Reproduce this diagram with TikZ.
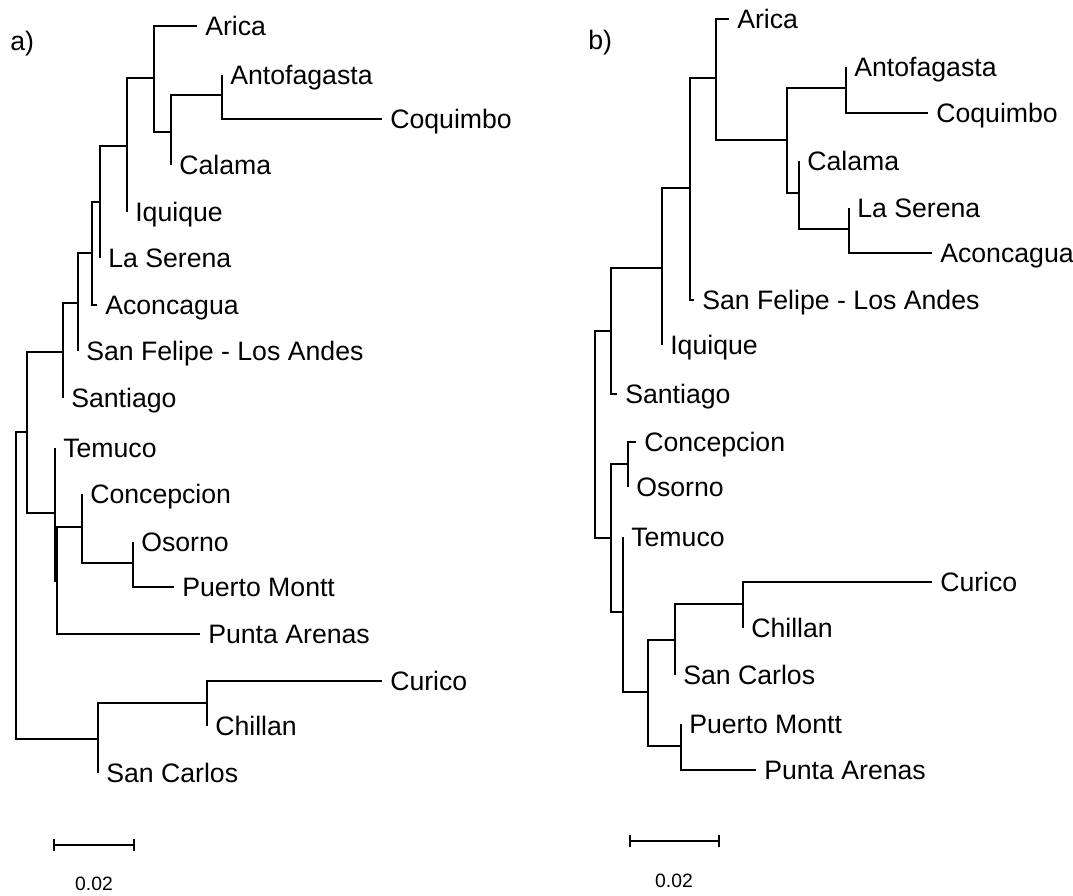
\documentclass[tikz,border=0pt]{standalone}
\usepackage{fontspec}
\setmainfont{Liberation Sans}
\usetikzlibrary{arrows.meta}
\tikzset{
  leaf/.style={anchor=west, inner xsep=6pt, inner ysep=0pt, text height=14.4pt, text depth=0pt, font=\fontsize{20}{24}\selectfont},
  branch/.style={line width=1.4pt},
  scalelab/.style={inner sep=0pt, font=\fontsize{14.5}{17}\selectfont},
}
\begin{document}
\begin{tikzpicture}[x=0.75pt, y=-0.75pt]
\useasboundingbox (0,0) rectangle (1073,895);
			%panel labels
			\node[leaf] (labA) at (2,41) {a)};
			\node[leaf] (labB) at (580,40) {b)};
			
			%tree a: leaves
			\foreach \n/\x/\y/\t in {aArica/197/26/Arica, aAnto/222/75/Antofagasta, aCoq/382/119/Coquimbo,
				aCal/171/165/Calama, aIqu/127/212/Iquique, aLaS/100/258/La Serena, aAco/97/305/Aconcagua,
				aSFe/78/351/San Felipe - Los Andes, aSant/63/398/Santiago, aTem/55/448/Temuco,
				aConc/82/494/Concepcion, aOso/133/542/Osorno, aPMo/174/587/Puerto Montt,
				aPAr/200/634/Punta Arenas, aCur/382/681/Curico, aChi/207/726/Chillan, aSCa/98/773/San Carlos}{
				\node[leaf] (\n) at (\x,\y) {\t};
			}
			%tree a: inner nodes
			\foreach \n/\x/\y in {aiAC/222/95, aiCal/171/132, aiAr/154/78, aiIq/127/146, aiLS/100/202,
				aiAco/92/253, aiSF/78/303, aiSt/63/352, aiN/27/432, aiTe/55/513, aiPA/57/581, aiCon/82/527,
				aiOs/133/563, aiCu/207/703, aiSC/98/739, aiRoot/16/585}{
				\coordinate (\n) at (\x,\y);
			}
			%tree a: branches
			\foreach \p/\c in {aiAC/aAnto, aiAC/aCoq, aiCal/aiAC, aiCal/aCal, aiAr/aArica, aiAr/aiCal,
				aiIq/aiAr, aiIq/aIqu, aiLS/aiIq, aiLS/aLaS, aiAco/aiLS, aiAco/aAco, aiSF/aiAco, aiSF/aSFe,
				aiSt/aiSF, aiSt/aSant, aiN/aiSt, aiN/aiTe, aiTe/aTem, aiTe/aiPA, aiPA/aiCon, aiPA/aPAr,
				aiCon/aConc, aiCon/aiOs, aiOs/aOso, aiOs/aPMo, aiCu/aCur, aiCu/aChi, aiSC/aiCu, aiSC/aSCa,
				aiRoot/aiN, aiRoot/aiSC}{
				\draw[branch] (\p) |- (\c.west);
			}
			
			%tree b: leaves
			\foreach \n/\x/\y/\t in {bArica/729/19/Arica, bAnto/846/67/Antofagasta, bCoq/928/113/Coquimbo,
				bCal/799/161/Calama, bLaS/849/208/La Serena, bAco/932/253/Aconcagua,
				bSFe/694/300/San Felipe - Los Andes, bIqu/662/345/Iquique, bSant/617/394/Santiago,
				bConc/636/442/Concepcion, bOso/628/487/Osorno, bTem/623/537/Temuco, bCur/932/582/Curico,
				bChi/743/628/Chillan, bSCa/675/675/San Carlos, bPMo/681/724/Puerto Montt,
				bPAr/756/770/Punta Arenas}{
				\node[leaf] (\n) at (\x,\y) {\t};
			}
			%tree b: inner nodes
			\foreach \n/\x/\y in {biAC/846/88, biLA/849/229, biCa/799/193, biN2/787/140, biAr/716/78,
				biSF/690/188, biIq/662/268, biSt/611/331, biCO/628/464, biCT/611/538, biTe/623/612,
				biSPP/648/692, biSC/675/640, biCu/743/604, biPM/681/746, biRoot/595/435}{
				\coordinate (\n) at (\x,\y);
			}
			%tree b: branches
			\foreach \p/\c in {biAC/bAnto, biAC/bCoq, biLA/bLaS, biLA/bAco, biCa/bCal, biCa/biLA,
				biN2/biAC, biN2/biCa, biAr/bArica, biAr/biN2, biSF/biAr, biSF/bSFe, biIq/biSF, biIq/bIqu,
				biSt/biIq, biSt/bSant, biCO/bConc, biCO/bOso, biCT/biCO, biCT/biTe, biTe/bTem, biTe/biSPP,
				biSPP/biSC, biSPP/biPM, biSC/biCu, biSC/bSCa, biCu/bCur, biCu/bChi, biPM/bPMo, biPM/bPAr,
				biRoot/biSt, biRoot/biCT}{
				\draw[branch] (\p) |- (\c.west);
			}
			
			%scale bars
			\coordinate (saL) at (53,845);
			\coordinate (saR) at (135,845);
			\draw[branch, {Bar[width=9pt]}-{Bar[width=9pt]}] (saL) -- (saR);
			\node[scalelab] (saLab) at (94,884) {0.02};
			\coordinate (sbL) at (629,841);
			\coordinate (sbR) at (720,841);
			\draw[branch, {Bar[width=9pt]}-{Bar[width=9pt]}] (sbL) -- (sbR);
			\node[scalelab] (sbLab) at (674,881) {0.02};
\end{tikzpicture}
\end{document}
